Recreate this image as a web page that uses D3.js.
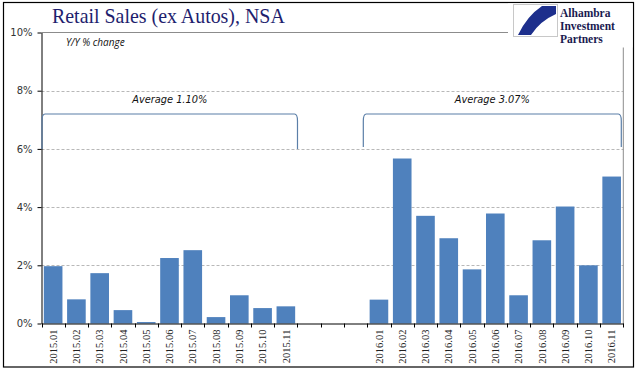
<!DOCTYPE html>
<html>
<head>
<meta charset="utf-8">
<script src="https://cdn.jsdelivr.net/npm/d3@7"></script>
<style>
  html, body { margin: 0; padding: 0; background: #fff; }
  svg { display: block; }
</style>
</head>
<body>
<svg id="chart" width="641" height="375"></svg>
<script>
// ---- data ----
const categories = [
  "2015.01","2015.02","2015.03","2015.04","2015.05","2015.06","2015.07","2015.08","2015.09","2015.10","2015.11",
  "gap1","gap2","gap3",
  "2016.01","2016.02","2016.03","2016.04","2016.05","2016.06","2016.07","2016.08","2016.09","2016.10","2016.11"
];
const tickLabels = [
  "2015.01","2015.02","2015.03","2015.04","2015.05","2015.06","2015.07","2015.08","2015.09","2015.10","2015.11",
  "","","",
  "2016.01","2016.02","2016.03","2016.04","2016.05","2016.06","2016.07","2016.08","2016.09","2016.10","2016.11"
];
const values = [
  1.97, 0.83, 1.73, 0.46, 0.05, 2.25, 2.52, 0.22, 0.97, 0.53, 0.59,
  null, null, null,
  0.82, 5.67, 3.70, 2.93, 1.86, 3.78, 0.97, 2.86, 4.02, 2.00, 5.05
];
const yTicks = [0, 2, 4, 6, 8, 10];
const averages = [
  { label: "Average 1.10%", from: "2015.01", to: "2015.11" },
  { label: "Average 3.07%", from: "2016.01", to: "2016.11" }
];
const title = "Retail Sales (ex Autos), NSA";
const subtitle = "Y/Y % change";
const logoLines = ["Alhambra", "Investment", "Partners"];

// ---- drawing ----
(function () {
const svg = d3.select("#chart");
const pLeft = 41.5, pRight = 623.3, pTop = 32.5, pBottom = 323.5;

const x = d3.scaleBand().domain(categories).range([pLeft, pRight])
  .paddingInner(0.2).paddingOuter(0.1);
const y = d3.scaleLinear().domain([0, 10]).range([pBottom, pTop]);
const slotLeft = c => x(c) - x.step() * x.paddingInner() / 2;
const slotRight = c => slotLeft(c) + x.step();

// outer frame
svg.append("rect").attr("x", 3.5).attr("y", 2.5).attr("width", 630).attr("height", 364.5)
  .attr("fill", "none").attr("stroke", "#000").attr("stroke-width", 1.2);

// gridlines
svg.append("g").selectAll("line").data(yTicks.filter(t => t > 0 && t < 10)).join("line")
  .attr("x1", pLeft).attr("x2", pRight)
  .attr("y1", d => Math.round(y(d)) + 0.5).attr("y2", d => Math.round(y(d)) + 0.5)
  .attr("stroke", "#b8b8b8").attr("stroke-dasharray", "3,2").attr("stroke-width", 1);

// plot border top & right
svg.append("line").attr("x1", pLeft).attr("x2", pRight).attr("y1", y(10)).attr("y2", y(10))
  .attr("stroke", "#8c8c8c");
svg.append("line").attr("x1", pRight).attr("x2", pRight).attr("y1", y(10)).attr("y2", y(0))
  .attr("stroke", "#8c8c8c");

// bars
svg.append("g").selectAll("rect").data(categories.map((c, i) => ({ c, v: values[i] })).filter(d => d.v !== null))
  .join("rect")
  .attr("x", d => x(d.c)).attr("width", x.bandwidth())
  .attr("y", d => y(d.v)).attr("height", d => y(0) - y(d.v))
  .attr("fill", "#4f81bd");

// y axis
const yAxis = svg.append("g").attr("transform", `translate(${pLeft},0)`)
  .call(d3.axisLeft(y).tickValues(yTicks).tickFormat(d => d + "%").tickSize(4).tickPadding(5).tickSizeOuter(0));
yAxis.select(".domain").attr("stroke", "#000");
yAxis.selectAll(".tick line").attr("stroke", "#000");
yAxis.selectAll(".tick text").attr("font-family", "DejaVu Sans, Verdana, sans-serif")
  .attr("font-size", 10).attr("fill", "#333");

// x axis
const xAxis = svg.append("g").attr("transform", `translate(0,${pBottom})`)
  .call(d3.axisBottom(x).tickSize(0).tickSizeOuter(0).tickFormat((d, i) => tickLabels[i]));
xAxis.select(".domain").attr("stroke", "#000");
xAxis.selectAll(".tick text")
  .attr("font-family", "Liberation Serif, Times New Roman, serif").attr("font-size", 10.5).attr("fill", "#222")
  .attr("transform", "rotate(-90)").attr("text-anchor", "end")
  .attr("x", -6).attr("y", 0).attr("dy", "0.35em");
// boundary ticks
const boundaries = categories.map(c => slotLeft(c)).concat([slotRight(categories[categories.length - 1])]);
xAxis.append("g").selectAll("line").data(boundaries).join("line")
  .attr("x1", d => Math.round(d) + 0.5).attr("x2", d => Math.round(d) + 0.5)
  .attr("y1", 0).attr("y2", 4).attr("stroke", "#000");

// average brackets
const bracketTop = 7.2, bracketBottom = 6, labelLevel = 7.7;
const offs = [[0.5, 0], [-4, -2]];
averages.forEach((a, i) => {
  const x0 = slotLeft(a.from) + offs[i][0], x1 = slotRight(a.to) + offs[i][1];
  const yt = y(bracketTop), yb = y(bracketBottom) - (i ? 2 : 0);
  const rx = 3, ry = 7;
  svg.append("path")
    .attr("d", `M${x0},${yb} L${x0},${yt + ry} Q${x0},${yt} ${x0 + rx},${yt} L${x1 - rx},${yt} Q${x1},${yt} ${x1},${yt + ry} L${x1},${yb}`)
    .attr("fill", "none").attr("stroke", "#5b7fa8").attr("stroke-width", 1.2);
  svg.append("text").attr("x", (x0 + x1) / 2).attr("y", y(labelLevel) + 4)
    .attr("text-anchor", "middle").attr("font-family", "DejaVu Sans, Verdana, sans-serif")
    .attr("font-style", "italic").attr("font-size", 9.8).attr("fill", "#111")
    .text(a.label);
});

// subtitle
svg.append("text").attr("x", 66).attr("y", 46)
  .attr("font-family", "Open Sans, DejaVu Sans, sans-serif").attr("font-style", "italic")
  .attr("font-size", 10).attr("fill", "#111").text(subtitle);

// title
const t = svg.append("text").attr("x", 52).attr("y", 23)
  .attr("font-family", "Liberation Serif, Times New Roman, serif").attr("font-size", 20)
  .attr("fill", "#1e1e6e").text(title);
const tw = t.node().getComputedTextLength();
t.attr("font-size", 20 * 233 / tw);

// logo
const logo = svg.append("g");
logo.append("rect").attr("x", 508).attr("y", 3.5).attr("width", 124.5).attr("height", 44).attr("fill", "#fff");
logo.append("rect").attr("x", 513.5).attr("y", 4.5).attr("width", 44).attr("height", 32)
  .attr("fill", "#fff").attr("stroke", "#c8c8c8");
logo.append("path")
  .attr("d", "M556,6 L542,6 Q527,16 518,35 L531,35 Q540,21 556,14 Z")
  .attr("fill", "#1d2f8c");
logo.selectAll("text").data(logoLines).join("text")
  .attr("x", 560).attr("y", (d, i) => 17 + i * 13)
  .attr("font-family", "Liberation Serif, Times New Roman, serif").attr("font-size", 11.5)
  .attr("font-weight", 600)
  .attr("fill", "#1a1a50").text(d => d);
})();
</script>
</body>
</html>
